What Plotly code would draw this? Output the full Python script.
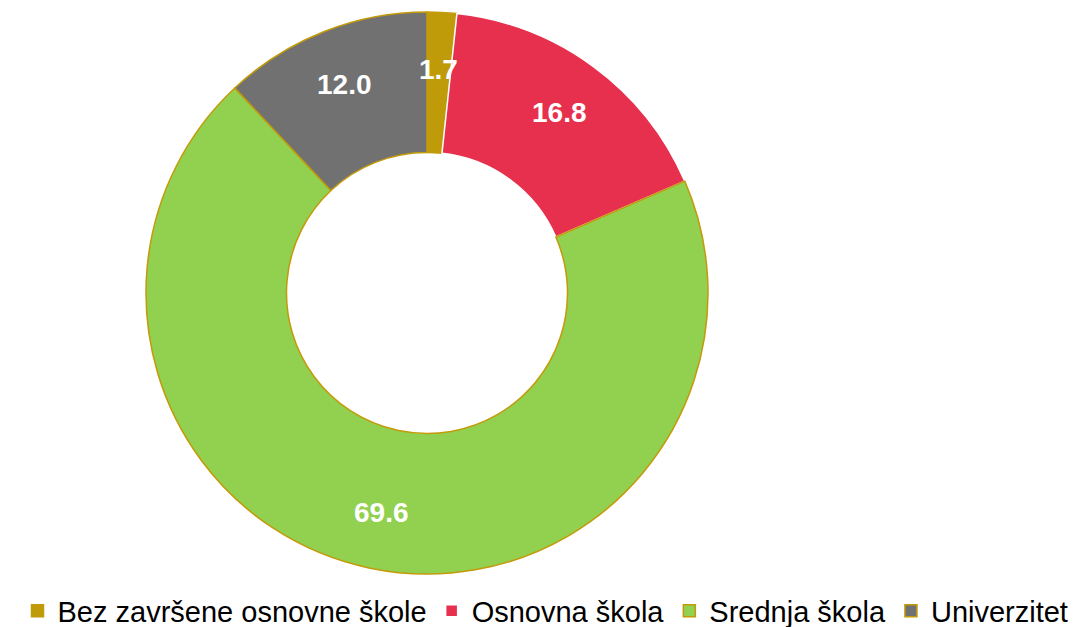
import math
import plotly.graph_objects as go

categories = ["Bez završene osnovne škole", "Osnovna škola", "Srednja škola", "Univerzitet"]
values = [1.7, 16.8, 69.6, 12.0]
colors = ["#BF9B0A", "#E6304D", "#92D050", "#717171"]
line_colors = ["#C39A0A", "#FFFFFF", "#C39A0A", "#C39A0A"]

W, H = 1091, 627
cx, cy, r = 427, 293, 280
r_dom = 281

fig = go.Figure(go.Pie(
    labels=categories,
    values=values,
    sort=False,
    direction="clockwise",
    rotation=0,
    hole=0.5,
    marker=dict(colors=colors, line=dict(color=line_colors, width=1.5)),
    textinfo="none",
    domain=dict(x=[(cx - r_dom) / W, (cx + r_dom) / W],
                y=[1 - (cy + r_dom) / H, 1 - (cy - r_dom) / H]),
    showlegend=True,
))

# data labels placed at each slice's mid-angle (derived from the values)
total = sum(values)
cum = 0.0
label_r = 0.8 * r
for v in values:
    mid = (cum + v / 2) / total * 2 * math.pi
    cum += v
    px = cx + label_r * math.sin(mid)
    py = cy - label_r * math.cos(mid)
    fig.add_annotation(
        x=px / W, y=1 - py / H, xref="paper", yref="paper",
        text=f"{v:.1f}", showarrow=False,
        font=dict(family="Liberation Sans, Arial, sans-serif", size=28, color="white", weight="bold"),
        xanchor="center", yanchor="middle",
    )

fig.update_layout(
    width=W, height=H,
    margin=dict(l=0, r=0, t=0, b=0, autoexpand=False),
    paper_bgcolor="white",
    plot_bgcolor="white",
    font=dict(family="Liberation Sans, Arial, sans-serif", color="black"),
    legend=dict(
        orientation="h",
        x=0.5, xanchor="center",
        y=-0.015, yanchor="bottom",
        font=dict(size=29, color="black"),
        itemwidth=30,
    ),
)

fig.write_html("out.html", config={"displayModeBar": False},
               post_script="document.body.style.margin='0';")
